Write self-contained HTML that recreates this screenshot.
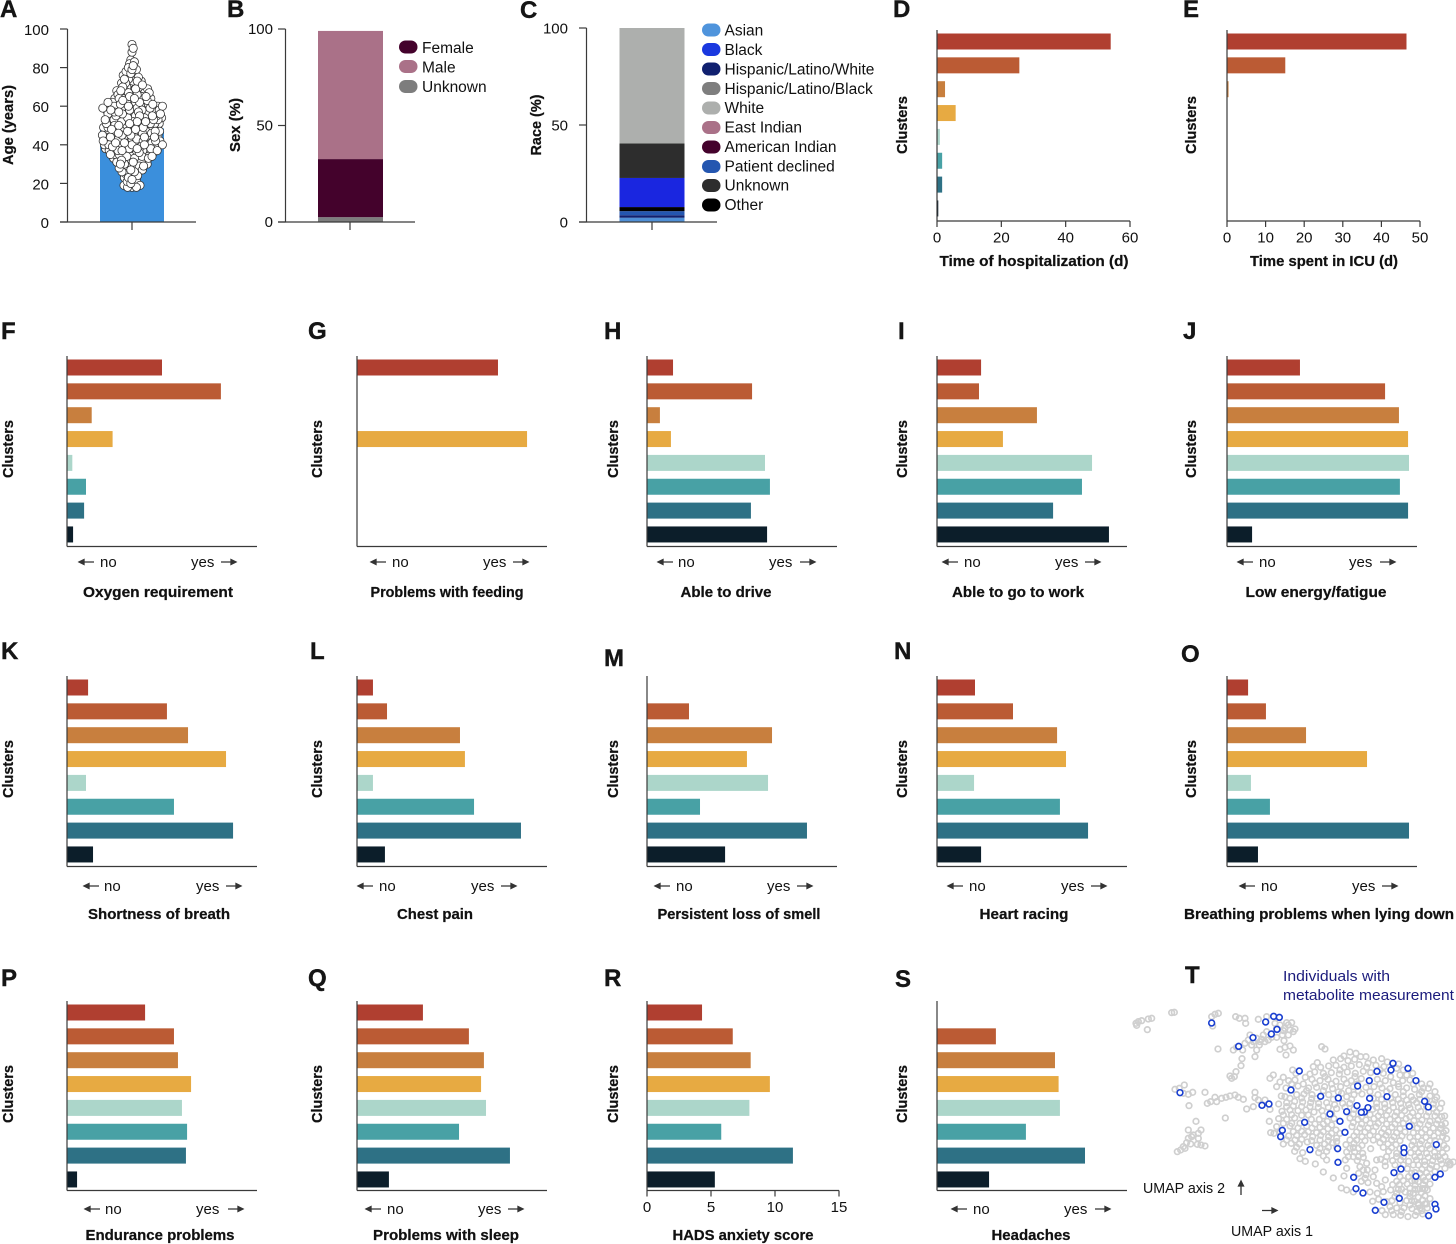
<!DOCTYPE html>
<html lang="en">
<head>
<meta charset="utf-8">
<title>Clinical characteristics of clusters</title>
<style>
html,body{margin:0;padding:0;background:#fff;}
svg{display:block;font-family:"Liberation Sans",sans-serif;}
text{fill:#111;}
.lt{font-size:24px;font-weight:bold;fill:#151515;stroke:#151515;stroke-width:.4;}
.ti{font-size:15px;font-weight:bold;text-anchor:middle;stroke:#111;stroke-width:.25;}
.cl{font-size:15px;font-weight:bold;text-anchor:middle;stroke:#111;stroke-width:.25;}
.nt{font-size:15px;}
.lg{font-size:15.5px;}
.tk{font-size:15px;}
.ar{stroke:#333;stroke-width:1.3;fill:#333;}
.um{font-size:15px;fill:#1b1b7c;}
</style>
</head>
<body>
<svg id="figure" width="1456" height="1244" viewBox="0 0 1456 1244" xmlns="http://www.w3.org/2000/svg">
<!-- panel letters -->
<text class="lt" x="0" y="17">A</text>
<text class="lt" x="227" y="17">B</text>
<text class="lt" x="520" y="18">C</text>
<text class="lt" x="893" y="17">D</text>
<text class="lt" x="1183" y="17">E</text>
<text class="lt" x="1" y="339">F</text>
<text class="lt" x="308" y="339">G</text>
<text class="lt" x="604" y="339">H</text>
<text class="lt" x="898" y="339">I</text>
<text class="lt" x="1183" y="339">J</text>
<text class="lt" x="1" y="659">K</text>
<text class="lt" x="310" y="659">L</text>
<text class="lt" x="604" y="666">M</text>
<text class="lt" x="894" y="659">N</text>
<text class="lt" x="1181" y="662">O</text>
<text class="lt" x="1" y="986">P</text>
<text class="lt" x="308" y="986">Q</text>
<text class="lt" x="604" y="986">R</text>
<text class="lt" x="895" y="987">S</text>
<text class="lt" x="1185" y="983">T</text>

<!-- rotated axis titles -->
<text class="cl" transform="translate(13 125) rotate(-90)" textLength="80" lengthAdjust="spacingAndGlyphs">Age (years)</text>
<text class="cl" transform="translate(240 125) rotate(-90)" textLength="54" lengthAdjust="spacingAndGlyphs">Sex (%)</text>
<text class="cl" transform="translate(541 125) rotate(-90)" textLength="61" lengthAdjust="spacingAndGlyphs">Race (%)</text>
<text class="cl" transform="translate(907 125) rotate(-90)" textLength="58" lengthAdjust="spacingAndGlyphs">Clusters</text>
<text class="cl" transform="translate(1196 125) rotate(-90)" textLength="58" lengthAdjust="spacingAndGlyphs">Clusters</text>
<text class="cl" transform="translate(13 449) rotate(-90)" textLength="58" lengthAdjust="spacingAndGlyphs">Clusters</text>
<text class="cl" transform="translate(322 449) rotate(-90)" textLength="58" lengthAdjust="spacingAndGlyphs">Clusters</text>
<text class="cl" transform="translate(618 449) rotate(-90)" textLength="58" lengthAdjust="spacingAndGlyphs">Clusters</text>
<text class="cl" transform="translate(907 449) rotate(-90)" textLength="58" lengthAdjust="spacingAndGlyphs">Clusters</text>
<text class="cl" transform="translate(1196 449) rotate(-90)" textLength="58" lengthAdjust="spacingAndGlyphs">Clusters</text>
<text class="cl" transform="translate(13 769) rotate(-90)" textLength="58" lengthAdjust="spacingAndGlyphs">Clusters</text>
<text class="cl" transform="translate(322 769) rotate(-90)" textLength="58" lengthAdjust="spacingAndGlyphs">Clusters</text>
<text class="cl" transform="translate(618 769) rotate(-90)" textLength="58" lengthAdjust="spacingAndGlyphs">Clusters</text>
<text class="cl" transform="translate(907 769) rotate(-90)" textLength="58" lengthAdjust="spacingAndGlyphs">Clusters</text>
<text class="cl" transform="translate(1196 769) rotate(-90)" textLength="58" lengthAdjust="spacingAndGlyphs">Clusters</text>
<text class="cl" transform="translate(13 1094) rotate(-90)" textLength="58" lengthAdjust="spacingAndGlyphs">Clusters</text>
<text class="cl" transform="translate(322 1094) rotate(-90)" textLength="58" lengthAdjust="spacingAndGlyphs">Clusters</text>
<text class="cl" transform="translate(618 1094) rotate(-90)" textLength="58" lengthAdjust="spacingAndGlyphs">Clusters</text>
<text class="cl" transform="translate(907 1094) rotate(-90)" textLength="58" lengthAdjust="spacingAndGlyphs">Clusters</text>

<!-- horizontal axis titles -->
<text class="ti" x="1034" y="266" textLength="189" lengthAdjust="spacingAndGlyphs">Time of hospitalization (d)</text>
<text class="ti" x="1324" y="266" textLength="148" lengthAdjust="spacingAndGlyphs">Time spent in ICU (d)</text>
<text class="ti" x="158" y="597" textLength="150" lengthAdjust="spacingAndGlyphs">Oxygen requirement</text>
<text class="ti" x="447" y="597" textLength="153" lengthAdjust="spacingAndGlyphs">Problems with feeding</text>
<text class="ti" x="726" y="597" textLength="91" lengthAdjust="spacingAndGlyphs">Able to drive</text>
<text class="ti" x="1018" y="597" textLength="132" lengthAdjust="spacingAndGlyphs">Able to go to work</text>
<text class="ti" x="1316" y="597" textLength="141" lengthAdjust="spacingAndGlyphs">Low energy/fatigue</text>
<text class="ti" x="159" y="919" textLength="142" lengthAdjust="spacingAndGlyphs">Shortness of breath</text>
<text class="ti" x="435" y="919" textLength="76" lengthAdjust="spacingAndGlyphs">Chest pain</text>
<text class="ti" x="739" y="919" textLength="163" lengthAdjust="spacingAndGlyphs">Persistent loss of smell</text>
<text class="ti" x="1024" y="919" textLength="89" lengthAdjust="spacingAndGlyphs">Heart racing</text>
<text class="ti" x="1319" y="919" textLength="270" lengthAdjust="spacingAndGlyphs">Breathing problems when lying down</text>
<text class="ti" x="160" y="1240" textLength="149" lengthAdjust="spacingAndGlyphs">Endurance problems</text>
<text class="ti" x="446" y="1240" textLength="146" lengthAdjust="spacingAndGlyphs">Problems with sleep</text>
<text class="ti" x="743" y="1240" textLength="141" lengthAdjust="spacingAndGlyphs">HADS anxiety score</text>
<text class="ti" x="1031" y="1240" textLength="79" lengthAdjust="spacingAndGlyphs">Headaches</text>

<!-- no / yes annotations -->
<g><path class="ar" d="M79 562h15M79 562l5-2.5v5z"/><text class="nt" x="100" y="567">no</text><text class="nt" x="191" y="567">yes</text><path class="ar" d="M221 562h15M236 562l-5-2.5v5z"/></g>
<g><path class="ar" d="M371 562h15M371 562l5-2.5v5z"/><text class="nt" x="392" y="567">no</text><text class="nt" x="483" y="567">yes</text><path class="ar" d="M513 562h15M528 562l-5-2.5v5z"/></g>
<g><path class="ar" d="M658 562h15M658 562l5-2.5v5z"/><text class="nt" x="678" y="567">no</text><text class="nt" x="769" y="567">yes</text><path class="ar" d="M800 562h15M815 562l-5-2.5v5z"/></g>
<g><path class="ar" d="M943 562h15M943 562l5-2.5v5z"/><text class="nt" x="964" y="567">no</text><text class="nt" x="1055" y="567">yes</text><path class="ar" d="M1085 562h15M1100 562l-5-2.5v5z"/></g>
<g><path class="ar" d="M1238 562h15M1238 562l5-2.5v5z"/><text class="nt" x="1259" y="567">no</text><text class="nt" x="1349" y="567">yes</text><path class="ar" d="M1380 562h15M1395 562l-5-2.5v5z"/></g>
<g><path class="ar" d="M84 886h15M84 886l5-2.5v5z"/><text class="nt" x="104" y="891">no</text><text class="nt" x="196" y="891">yes</text><path class="ar" d="M226 886h15M241 886l-5-2.5v5z"/></g>
<g><path class="ar" d="M358 886h15M358 886l5-2.5v5z"/><text class="nt" x="379" y="891">no</text><text class="nt" x="471" y="891">yes</text><path class="ar" d="M501 886h15M516 886l-5-2.5v5z"/></g>
<g><path class="ar" d="M655 886h15M655 886l5-2.5v5z"/><text class="nt" x="676" y="891">no</text><text class="nt" x="767" y="891">yes</text><path class="ar" d="M797 886h15M812 886l-5-2.5v5z"/></g>
<g><path class="ar" d="M948 886h15M948 886l5-2.5v5z"/><text class="nt" x="969" y="891">no</text><text class="nt" x="1061" y="891">yes</text><path class="ar" d="M1091 886h15M1106 886l-5-2.5v5z"/></g>
<g><path class="ar" d="M1240 886h15M1240 886l5-2.5v5z"/><text class="nt" x="1261" y="891">no</text><text class="nt" x="1352" y="891">yes</text><path class="ar" d="M1382 886h15M1397 886l-5-2.5v5z"/></g>
<g><path class="ar" d="M85 1209h15M85 1209l5-2.5v5z"/><text class="nt" x="105" y="1214">no</text><text class="nt" x="196" y="1214">yes</text><path class="ar" d="M228 1209h15M243 1209l-5-2.5v5z"/></g>
<g><path class="ar" d="M366 1209h15M366 1209l5-2.5v5z"/><text class="nt" x="387" y="1214">no</text><text class="nt" x="478" y="1214">yes</text><path class="ar" d="M508 1209h15M523 1209l-5-2.5v5z"/></g>
<g><path class="ar" d="M952 1209h15M952 1209l5-2.5v5z"/><text class="nt" x="973" y="1214">no</text><text class="nt" x="1064" y="1214">yes</text><path class="ar" d="M1095 1209h15M1110 1209l-5-2.5v5z"/></g>

<!-- sex legend -->
<g>
<rect x="399" y="40.500" width="18.500" height="13" rx="6.500" fill="#44022c"/>
<text class="lg" x="422" y="53">Female</text>
<rect x="399" y="60" width="18.500" height="13" rx="6.500" fill="#aa7188"/>
<text class="lg" x="422" y="72.500">Male</text>
<rect x="399" y="80" width="18.500" height="13" rx="6.500" fill="#7d7d7d"/>
<text class="lg" x="422" y="92">Unknown</text>
</g>

<!-- race legend -->
<g>
<rect x="702" y="23.500" width="18.500" height="13" rx="6.500" fill="#4f94dc"/>
<text class="lg" x="724.500" y="35.500">Asian</text>
<rect x="702" y="43" width="18.500" height="13" rx="6.500" fill="#1a38df"/>
<text class="lg" x="724.500" y="55">Black</text>
<rect x="702" y="62.500" width="18.500" height="13" rx="6.500" fill="#10206f"/>
<text class="lg" x="724.500" y="74.500">Hispanic/Latino/White</text>
<rect x="702" y="82" width="18.500" height="13" rx="6.500" fill="#7e7e7e"/>
<text class="lg" x="724.500" y="94">Hispanic/Latino/Black</text>
<rect x="702" y="101.500" width="18.500" height="13" rx="6.500" fill="#adafad"/>
<text class="lg" x="724.500" y="113">White</text>
<rect x="702" y="121" width="18.500" height="13" rx="6.500" fill="#aa7188"/>
<text class="lg" x="724.500" y="132.500">East Indian</text>
<rect x="702" y="140.500" width="18.500" height="13" rx="6.500" fill="#44022c"/>
<text class="lg" x="724.500" y="152">American Indian</text>
<rect x="702" y="160" width="18.500" height="13" rx="6.500" fill="#2456b0"/>
<text class="lg" x="724.500" y="171.500">Patient declined</text>
<rect x="702" y="179" width="18.500" height="13" rx="6.500" fill="#2d2d2d"/>
<text class="lg" x="724.500" y="190.500">Unknown</text>
<rect x="702" y="198.500" width="18.500" height="13" rx="6.500" fill="#000"/>
<text class="lg" x="724.500" y="210">Other</text>
</g>

<!-- UMAP annotations -->
<text class="um" x="1283" y="981" textLength="107" lengthAdjust="spacingAndGlyphs">Individuals with</text>
<text class="um" x="1283" y="1000" textLength="171" lengthAdjust="spacingAndGlyphs">metabolite measurement</text>
<text class="nt" x="1143" y="1193" textLength="82" lengthAdjust="spacingAndGlyphs">UMAP axis 2</text>
<path class="ar" d="M1241 1195v-14M1241 1181l-2.500 5h5z"/>
<path class="ar" d="M1262 1210.500h15M1277 1210.500l-5-2.500v5z"/>
<text class="nt" x="1231" y="1236" textLength="82" lengthAdjust="spacingAndGlyphs">UMAP axis 1</text>

<g id="marks"></g>
</svg>

<script>
/* ---------- Panel A ---------- */
const ageTicks = [0, 20, 40, 60, 80, 100];
const meanAge = [48.5];
const ageYears = [18,19,20,21,22,23,24,25,26,27,28,29,30,31,32,33,34,35,36,37,38,39,40,41,42,43,44,45,46,47,48,49,50,51,52,53,54,55,56,57,58,59,60,61,62,63,64,65,66,67,68,69,70,71,72,73,74,75,76,77,78,79,80,81,82,83,84,88,90,92];
const ageCounts = [3,2,2,1,2,2,2,2,3,3,3,3,4,4,4,5,5,5,5,6,6,6,7,7,7,6,6,7,6,7,6,7,6,7,6,7,6,7,6,7,6,8,6,6,5,5,5,4,4,4,4,4,3,3,3,3,2,2,2,2,1,2,1,1,1,1,1,1,1,1];

/* ---------- Panels B, C ---------- */
const sexTicks = [0, 50, 100];
const sexCategories = ['Unknown', 'Female', 'Male'];
const sexValues = [2.5, 30.1, 66.4];
const raceTicks = [0, 50, 100];
const raceCategories = ['Asian', 'Hispanic/Latino/White', 'Patient declined', 'Other', 'Black', 'Unknown', 'White'];
const raceValues = [2.2, 1.3, 2.1, 2.1, 15, 17.8, 59.5];

/* ---------- Cluster bar panels ---------- */
const hospitalizationDays = [54, 25.6, 2.5, 5.8, 0.9, 1.6, 1.6, 0.4];
const icuDays = [46.5, 15.1, 0.4, 0.1, 0, 0, 0, 0];
const hospitalizationTicks = [0, 20, 40, 60];
const icuTicks = [0, 10, 20, 30, 40, 50];
const anxietyTicks = [0, 5, 10, 15];

const oxygenRequirement = [50, 81, 13, 24, 2.8, 10, 9, 3.2];
const problemsWithFeeding = [74.2, null, null, 89.5, null, null, null, null];
const ableToDrive = [13.7, 55.3, 6.8, 12.6, 62.1, 64.7, 54.7, 63.2];
const ableToGoToWork = [23.2, 22.1, 52.6, 34.7, 81.6, 76.3, 61.1, 90.5];
const lowEnergyFatigue = [38.4, 83.2, 90.5, 95.3, 95.8, 91, 95.3, 13.2];
const shortnessOfBreath = [11.1, 52.6, 63.7, 83.7, 10, 56.3, 87.4, 13.7];
const chestPain = [8.4, 15.8, 54.2, 56.8, 8.4, 61.6, 86.3, 14.7];
const lossOfSmell = [null, 22.1, 65.8, 52.6, 63.7, 27.9, 84.2, 41.1];
const heartRacing = [20, 40, 63.2, 67.9, 19.5, 64.7, 79.5, 23.2];
const breathingLyingDown = [11.1, 20.5, 41.6, 73.7, 12.6, 22.6, 95.8, 16.3];
const enduranceProblems = [41.1, 56.3, 58.4, 65.3, 60.5, 63.2, 62.6, 5.3];
const problemsWithSleep = [34.7, 58.9, 66.8, 65.3, 67.9, 53.7, 80.5, 16.8];
const anxietyScore = [4.3, 6.7, 8.1, 9.6, 8, 5.8, 11.4, 5.3];
const headaches = [null, 31, 62.1, 64, 64.7, 46.8, 77.9, 27.4];

/* ---------- Panel T: UMAP embedding coordinates ---------- */
const umapGray = [
[48,190],[55,185],[65,182],[85,177],[95,175],[82,209],[50,196],[155,158],[163,157],[275,170],[285,163],[295,160],[278,198],[347,170],[358,175],[375,175],[377,190],[415,178],[294,267],[340,270],[350,262],[366,296],[363,317],[348,335],[343,350],[330,348],[335,355],
[440,170],[465,190],[500,188],[515,188],[525,207],[510,210],[495,205],[480,195],[487,225],[470,232],[440,215],[430,225],[425,238],[410,235],[385,240],[395,255],[375,250],[418,255],[410,270],[405,290],[368,270],[445,240],[480,268],[495,262],[510,258],[520,270],[498,285],[605,260],[615,267],
[470,205],[490,212],[505,225],[455,232],[435,245],[420,245],[400,245],[390,225],[505,195],[520,215],[492,242],
[165,388],[178,385],[193,375],[190,400],[205,403],[218,397],[255,397],[207,437],[262,430],[272,425],[285,412],[290,425],[305,415],[318,412],[330,408],[345,405],[355,412],[370,418],[405,397],[405,413],[415,420],[380,447],[400,440],[435,420],[460,345],[450,355],[316,474],
[228,484],[205,510],[243,510],[235,520],[220,525],[205,535],[235,535],[200,548],[212,552],[190,560],[232,553],[243,555],[255,558],[195,565],[182,570],[172,575],[215,530],
[672,288],[690,276],[708,280],[722,290],
[592,308],[640,300],[662,296],[684,302],[704,298],[738,290],[760,300],[785,296],[802,306],
[518,330],[570,342],[602,322],[626,318],[648,316],[672,322],[694,318],[718,314],[744,310],[768,316],[792,320],[836,312],[850,330],
[490,352],[528,340],[556,352],[584,336],[610,340],[634,338],[658,342],[682,336],[706,340],[730,334],[752,338],[790,340],[812,350],[840,345],[878,340],
[480,366],[506,362],[550,372],[576,358],[600,362],[624,358],[648,364],[672,358],[694,362],[724,356],[772,358],[796,362],[820,368],[848,362],[870,360],[905,372],
[470,380],[498,384],[534,378],[566,384],[590,382],[614,380],[638,386],[662,380],[686,392],[738,382],[762,380],[786,384],[810,386],[836,380],[860,384],[884,388],[910,384],[930,372],[945,395],
[484,408],[530,404],[552,402],[576,404],[626,404],[680,410],[702,404],[726,402],[774,404],[826,404],[850,408],[874,410],[898,404],[930,408],[950,412],
[476,432],[500,428],[524,424],[548,426],[572,428],[596,430],[620,428],[644,434],[668,430],[690,430],[770,430],[794,432],[818,428],[842,430],[866,434],[890,428],[940,432],[965,430],
[450,448],[486,454],[510,450],[534,452],[558,450],[582,456],[606,452],[702,448],[758,448],[782,456],[806,452],[830,456],[854,452],[878,458],[902,454],[926,456],[950,456],[974,468],
[448,484],[476,476],[500,478],[524,474],[574,478],[598,478],[622,484],[642,476],[690,474],[714,478],[738,480],[762,476],[786,480],[810,478],[834,480],[858,476],[882,482],[906,480],[930,484],[954,480],[976,490],
[452,518],[470,500],[510,498],[534,504],[576,504],[600,502],[624,506],[648,510],[696,500],[720,504],[744,504],[768,500],[792,506],[816,502],[840,506],[892,504],[916,508],[940,504],[962,506],[978,512],
[462,520],[506,528],[530,526],[554,524],[578,530],[602,526],[626,530],[650,534],[702,528],[726,530],[750,526],[774,530],[798,526],[822,530],[846,528],[870,532],[894,530],[918,532],[942,528],[968,530],[980,536],
[490,552],[514,550],[538,552],[562,546],[590,556],[614,552],[638,548],[678,554],[702,550],[726,556],[780,548],[804,552],[828,554],[876,556],[900,552],[924,556],[972,556],
[524,574],[548,578],[596,578],[620,574],[680,576],[704,576],[728,580],[752,566],[806,574],[830,580],[872,578],[896,578],[920,580],[944,576],[968,578],[990,610],
[540,596],[556,604],[586,612],[620,600],[676,600],[712,602],[770,600],[782,598],[818,602],[842,600],[866,604],[890,600],[914,604],[938,602],[962,600],[985,605],[1000,606],
[610,636],[640,654],[680,625],[720,620],[742,630],[796,618],[862,626],[906,628],[930,626],[950,620],[975,625],[990,615],
[672,648],[716,640],[738,644],[760,650],[796,660],[840,650],[866,650],[910,652],[926,650],
[664,684],[680,690],[724,664],[744,668],[770,670],[818,674],[838,674],[862,672],[886,676],[910,674],[930,672],
[700,696],[750,696],[772,700],[812,690],[830,700],[856,696],[880,700],[904,698],[922,690],
[758,724],[776,718],[816,722],[860,722],[884,724],[908,720],[930,716],
[786,752],[810,740],[830,744],[852,744],[876,746],[900,744],[922,744],
[796,764],[820,764],[842,766],[864,770],[886,766],[908,762],
[580,320],[615,350],[660,330],[705,350],[740,322],[780,330],[830,325],[860,345],[525,360],[560,392],[610,392],[655,396],[700,380],[750,395],[800,395],[850,395],[905,395],[495,410],[545,414],[590,416],[640,418],[695,418],[785,418],[835,418],[880,420],[920,420],[500,440],[545,440],[595,442],[650,446],[770,442],[820,442],[870,444],[920,440],[960,445],[490,465],[545,466],[610,468],[700,462],[750,464],[800,466],[845,466],[895,468],[945,468],[490,490],[540,490],[610,492],[700,488],[750,490],[800,492],[850,490],[900,492],[950,492],[520,515],[565,515],[610,515],[660,520],[710,516],[760,514],[805,516],[855,516],[905,518],[955,518],[500,540],[545,538],[600,540],[650,545],[710,540],[760,540],[815,540],[880,544],[930,542],[960,545],[625,562],[690,565],[715,565],[815,563],[885,566],[930,566],[980,565],[885,590],[925,592],[955,590],[830,590],[715,590],[685,590],[825,615],[880,615],[915,615],[875,640],[900,640],[830,664],[875,662],[895,665],[845,688],[870,685],[895,688],[915,686],[870,710],[895,712],[915,708],[825,710],[870,735],[895,735],[915,732],
[515,372],[585,370],[635,372],[680,370],[712,372],[780,372],[835,372],[880,372],[925,385],
[510,415],[575,416],[665,400],[715,392],[760,415],[812,415],[860,420],[900,418],[945,420],
[520,438],[570,440],[625,442],[675,442],[795,444],[845,444],[895,442],[940,445],
[515,464],[565,465],[635,462],[725,470],[775,468],[825,468],[870,470],[920,468],[965,470],
[515,490],[560,498],[585,492],[635,495],[725,492],[775,490],[825,492],[875,495],[925,495],[965,495],
[480,515],[545,514],[590,518],[635,520],[735,516],[785,518],[830,518],[880,518],[930,518],[970,518],
[525,540],[575,542],[625,542],[690,540],[735,542],[790,538],[840,542],[905,542],[945,542],
[530,562],[600,565],[650,562],[700,563],[790,562],[840,566],[905,566],[955,565],
[610,588],[700,590],[730,592],[800,590],[850,590],[900,590],[945,590],[975,590],
[740,610],[795,605],[850,615],[895,615],[935,615],[965,612],
[730,630],[765,630],[885,638],[920,638],[945,635],
[735,655],[785,680],[850,662],[885,662],[915,662],
[790,695],[835,688],[885,688],[908,686],[870,700],
[800,725],[840,728],[875,722],[895,730],[920,732],
[815,752],[845,755],[890,755],[905,752]
];
const umapBlue = [[275,189],[437,186],[461,169],[478,172],[471,208],[454,222],[399,233],[356,259],[180,398],[538,333],[513,390],[426,436],[447,432],[487,511],[482,530],[554,487],[570,569],[602,409],[655,414],[630,462],[680,455],[660,484],[675,517],[653,566],[654,607],[713,378],[748,362],[771,334],[813,330],[819,310],[864,325],[888,362],[749,415],[711,437],[744,443],[733,456],[724,457],[801,410],[914,424],[925,441],[868,499],[949,554],[852,564],[852,578],[843,627],[822,638],[888,649],[945,652],[961,642],[701,652],[708,686],[729,699],[792,727],[838,715],[766,751],[945,733],[948,747],[926,767]];

const clusterColors = ['#b03f30', '#bb5b34', '#c87f3e', '#e7aa42', '#acd6ca', '#48a1a5', '#2e7185', '#0c1e2a'];
const raceColors = ['#4f8fd6', '#10206f', '#2456b0', '#000000', '#1a26e0', '#2d2d2d', '#adafad'];
const sexColors = ['#7d7d7d', '#44022c', '#aa7188'];
const AXIS = '#3a3a3a';
const NS = 'http://www.w3.org/2000/svg';
const marks = document.getElementById('marks');

function drawLine(parent, x1, y1, x2, y2, name) {
  const el = document.createElementNS(NS, 'line');
  el.setAttribute('x1', x1);
  el.setAttribute('y1', y1);
  el.setAttribute('x2', x2);
  el.setAttribute('y2', y2);
  el.setAttribute('stroke', AXIS);
  el.setAttribute('stroke-width', '1.2');
  
  
  parent.appendChild(el);
  return el;
}
function drawRect(parent, x, y, w, h, fill, name) {
  const el = document.createElementNS(NS, 'rect');
  el.setAttribute('x', x);
  el.setAttribute('y', y);
  el.setAttribute('width', w);
  el.setAttribute('height', h);
  el.setAttribute('fill', fill);
  
  
  parent.appendChild(el);
  return el;
}
function drawLabel(parent, x, y, anchor, label, name) {
  const el = document.createElementNS(NS, 'text');
  el.setAttribute('x', x);
  el.setAttribute('y', y);
  el.setAttribute('text-anchor', anchor);
  el.setAttribute('class', 'tk');
  
  
  el.textContent = label;
  parent.appendChild(el);
  return el;
}
function drawCircle(parent, cx, cy, r, fill, stroke, sw, name) {
  const el = document.createElementNS(NS, 'circle');
  el.setAttribute('cx', cx);
  el.setAttribute('cy', cy);
  el.setAttribute('r', r);
  el.setAttribute('fill', fill);
  el.setAttribute('stroke', stroke);
  el.setAttribute('stroke-width', sw);
  
  
  parent.appendChild(el);
  return el;
}
function linearScale(d0, d1, r0, r1) {
  return function (v) { return r0 + (v - d0) / (d1 - d0) * (r1 - r0); };
}

/* Vertical value axis used by panels A, B and C */
function drawValueAxis(key, ticks, yScale, axisX, xEnd, labelX, tickX, labelDy) {
  const g = document.createElementNS(NS, 'g');
  
  
  marks.appendChild(g);
  drawLine(g, axisX, yScale(ticks[ticks.length - 1]), axisX, yScale(0), key + '-y-axis');
  drawLine(g, axisX - 7.5, yScale(0), xEnd, yScale(0), key + '-x-axis');
  drawLine(g, tickX, yScale(0), tickX, yScale(0) + 8, key + '-x-tick');
  ticks.forEach(function (t) {
    drawLine(g, axisX - 7.5, yScale(t), axisX, yScale(t), key + '-y-tick');
    drawLabel(g, labelX, yScale(t) + labelDy, 'end', String(t), key + '-y-tick-label');
  });
}

/* Panel A: a beeswarm — each age is placed at the nearest free horizontal slot */
(function () {
  const y = linearScale(0, 100, 222, 29);
  const g = document.createElementNS(NS, 'g');
  
  
  marks.appendChild(g);
  drawRect(g, 100, y(meanAge[0]), 64, y(0) - y(meanAge[0]), '#3b8fdc', 'age-mean-bar');
  const minDist = 4;
  const placed = [];
  let side = 1;
  ageYears.forEach(function (age, i) {
    for (let k = 0; k < ageCounts[i]; k++) {
      const cy = y(age);
      let dx = 0;
      let found = false;
      while (!found) {
        for (const sign of [side, -side]) {
          const free = placed.every(function (p) {
            const ax = p.x - sign * dx;
            const ay = p.y - cy;
            return ax * ax + ay * ay >= minDist * minDist;
          });
          if (free) {
            placed.push({x: sign * dx, y: cy, order: (placed.length * 37) % 101});
            found = true;
            break;
          }
        }
        dx += 0.4;
      }
      side = -side;
    }
  });
  placed.sort(function (a, b) { return a.order - b.order; });
  placed.forEach(function (p) {
    drawCircle(g, 132 + p.x, p.y, 4.1, '#fff', '#333', 0.8, 'age-point');
  });
  drawValueAxis('age', ageTicks, y, 67.5, 196, 49, 132, 6);
})();

/* Stacked bars for panels B and C */
function drawStack(key, categories, values, colors, ticks, yScale, barX, barW, axisX, xEnd, labelX, tickX, labelDy) {
  const g = document.createElementNS(NS, 'g');
  
  
  marks.appendChild(g);
  let base = 0;
  values.forEach(function (v, i) {
    const top = base + v;
    drawRect(g, barX, yScale(top), barW, yScale(base) - yScale(top), colors[i], key + '-segment-' + categories[i].toLowerCase().replace(/[^a-z]+/g, '-'));
    base = top;
  });
  drawValueAxis(key, ticks, yScale, axisX, xEnd, labelX, tickX, labelDy);
}
drawStack('sex', sexCategories, sexValues, sexColors, sexTicks, linearScale(0, 100, 222, 29), 318, 65, 285.5, 415, 273, 350, 5);
drawStack('race', raceCategories, raceValues, raceColors, raceTicks, linearScale(0, 100, 222, 28), 619.5, 65, 586.5, 717, 568, 652, 5.5);

/* Cluster bar panels */
const panels = [
  {key: 'hospitalization', values: hospitalizationDays, x0: 937, len: 193, top: 30, bottom: 221, max: 60, ticks: hospitalizationTicks},
  {key: 'icu', values: icuDays, x0: 1227, len: 193, top: 30, bottom: 221, max: 50, ticks: icuTicks},
  {key: 'oxygen', values: oxygenRequirement, x0: 67, len: 190, top: 356, bottom: 546.5, max: 100},
  {key: 'feeding', values: problemsWithFeeding, x0: 357, len: 190, top: 356, bottom: 546.5, max: 100},
  {key: 'drive', values: ableToDrive, x0: 647, len: 190, top: 356, bottom: 546.5, max: 100},
  {key: 'work', values: ableToGoToWork, x0: 937, len: 190, top: 356, bottom: 546.5, max: 100},
  {key: 'fatigue', values: lowEnergyFatigue, x0: 1227, len: 190, top: 356, bottom: 546.5, max: 100},
  {key: 'breath', values: shortnessOfBreath, x0: 67, len: 190, top: 676, bottom: 866.5, max: 100},
  {key: 'chest-pain', values: chestPain, x0: 357, len: 190, top: 676, bottom: 866.5, max: 100},
  {key: 'smell', values: lossOfSmell, x0: 647, len: 190, top: 676, bottom: 866.5, max: 100},
  {key: 'heart-racing', values: heartRacing, x0: 937, len: 190, top: 676, bottom: 866.5, max: 100},
  {key: 'lying-down', values: breathingLyingDown, x0: 1227, len: 190, top: 676, bottom: 866.5, max: 100},
  {key: 'endurance', values: enduranceProblems, x0: 67, len: 190, top: 1001, bottom: 1190.5, max: 100},
  {key: 'sleep', values: problemsWithSleep, x0: 357, len: 190, top: 1001, bottom: 1190.5, max: 100},
  {key: 'anxiety', values: anxietyScore, x0: 647, len: 192, top: 1001, bottom: 1190.5, max: 15, ticks: anxietyTicks},
  {key: 'headaches', values: headaches, x0: 937, len: 190, top: 1001, bottom: 1190.5, max: 100}
];
panels.forEach(function (p) {
  const g = document.createElementNS(NS, 'g');
  
  
  marks.appendChild(g);
  const x = linearScale(0, p.max, p.x0, p.x0 + p.len);
  const band = function (i) { return p.top + 3.5 + i * 23.85; };
  p.values.forEach(function (v, i) {
    if (v === null) return;
    drawRect(g, p.x0, band(i), x(v) - p.x0, 16, clusterColors[i], p.key + '-bar-cluster-' + (i + 1));
  });
  drawLine(g, p.x0, p.top, p.x0, p.bottom, p.key + '-y-axis');
  drawLine(g, p.x0, p.bottom, p.x0 + p.len, p.bottom, p.key + '-x-axis');
  if (p.ticks) {
    p.ticks.forEach(function (t) {
      drawLine(g, x(t), p.bottom, x(t), p.bottom + 6, p.key + '-x-tick');
      drawLabel(g, x(t), p.bottom + 21.5, 'middle', String(t), p.key + '-x-tick-label');
    });
  }
});

/* Panel T */
(function () {
  const xU = linearScale(0, 1000, 1120, 1453.3);
  const yU = linearScale(0, 1000, 960, 1293.3);
  const g = document.createElementNS(NS, 'g');
  
  
  marks.appendChild(g);
  umapGray.forEach(function (p) {
    drawCircle(g, xU(p[0]), yU(p[1]), 2.8, 'none', '#cfcfcf', 1.7, 'umap-point');
  });
  umapBlue.forEach(function (p) {
    drawCircle(g, xU(p[0]), yU(p[1]), 2.9, '#fff', '#1a3fd0', 1.6, 'umap-point-metabolite');
  });
})();
</script>
</body>
</html>
